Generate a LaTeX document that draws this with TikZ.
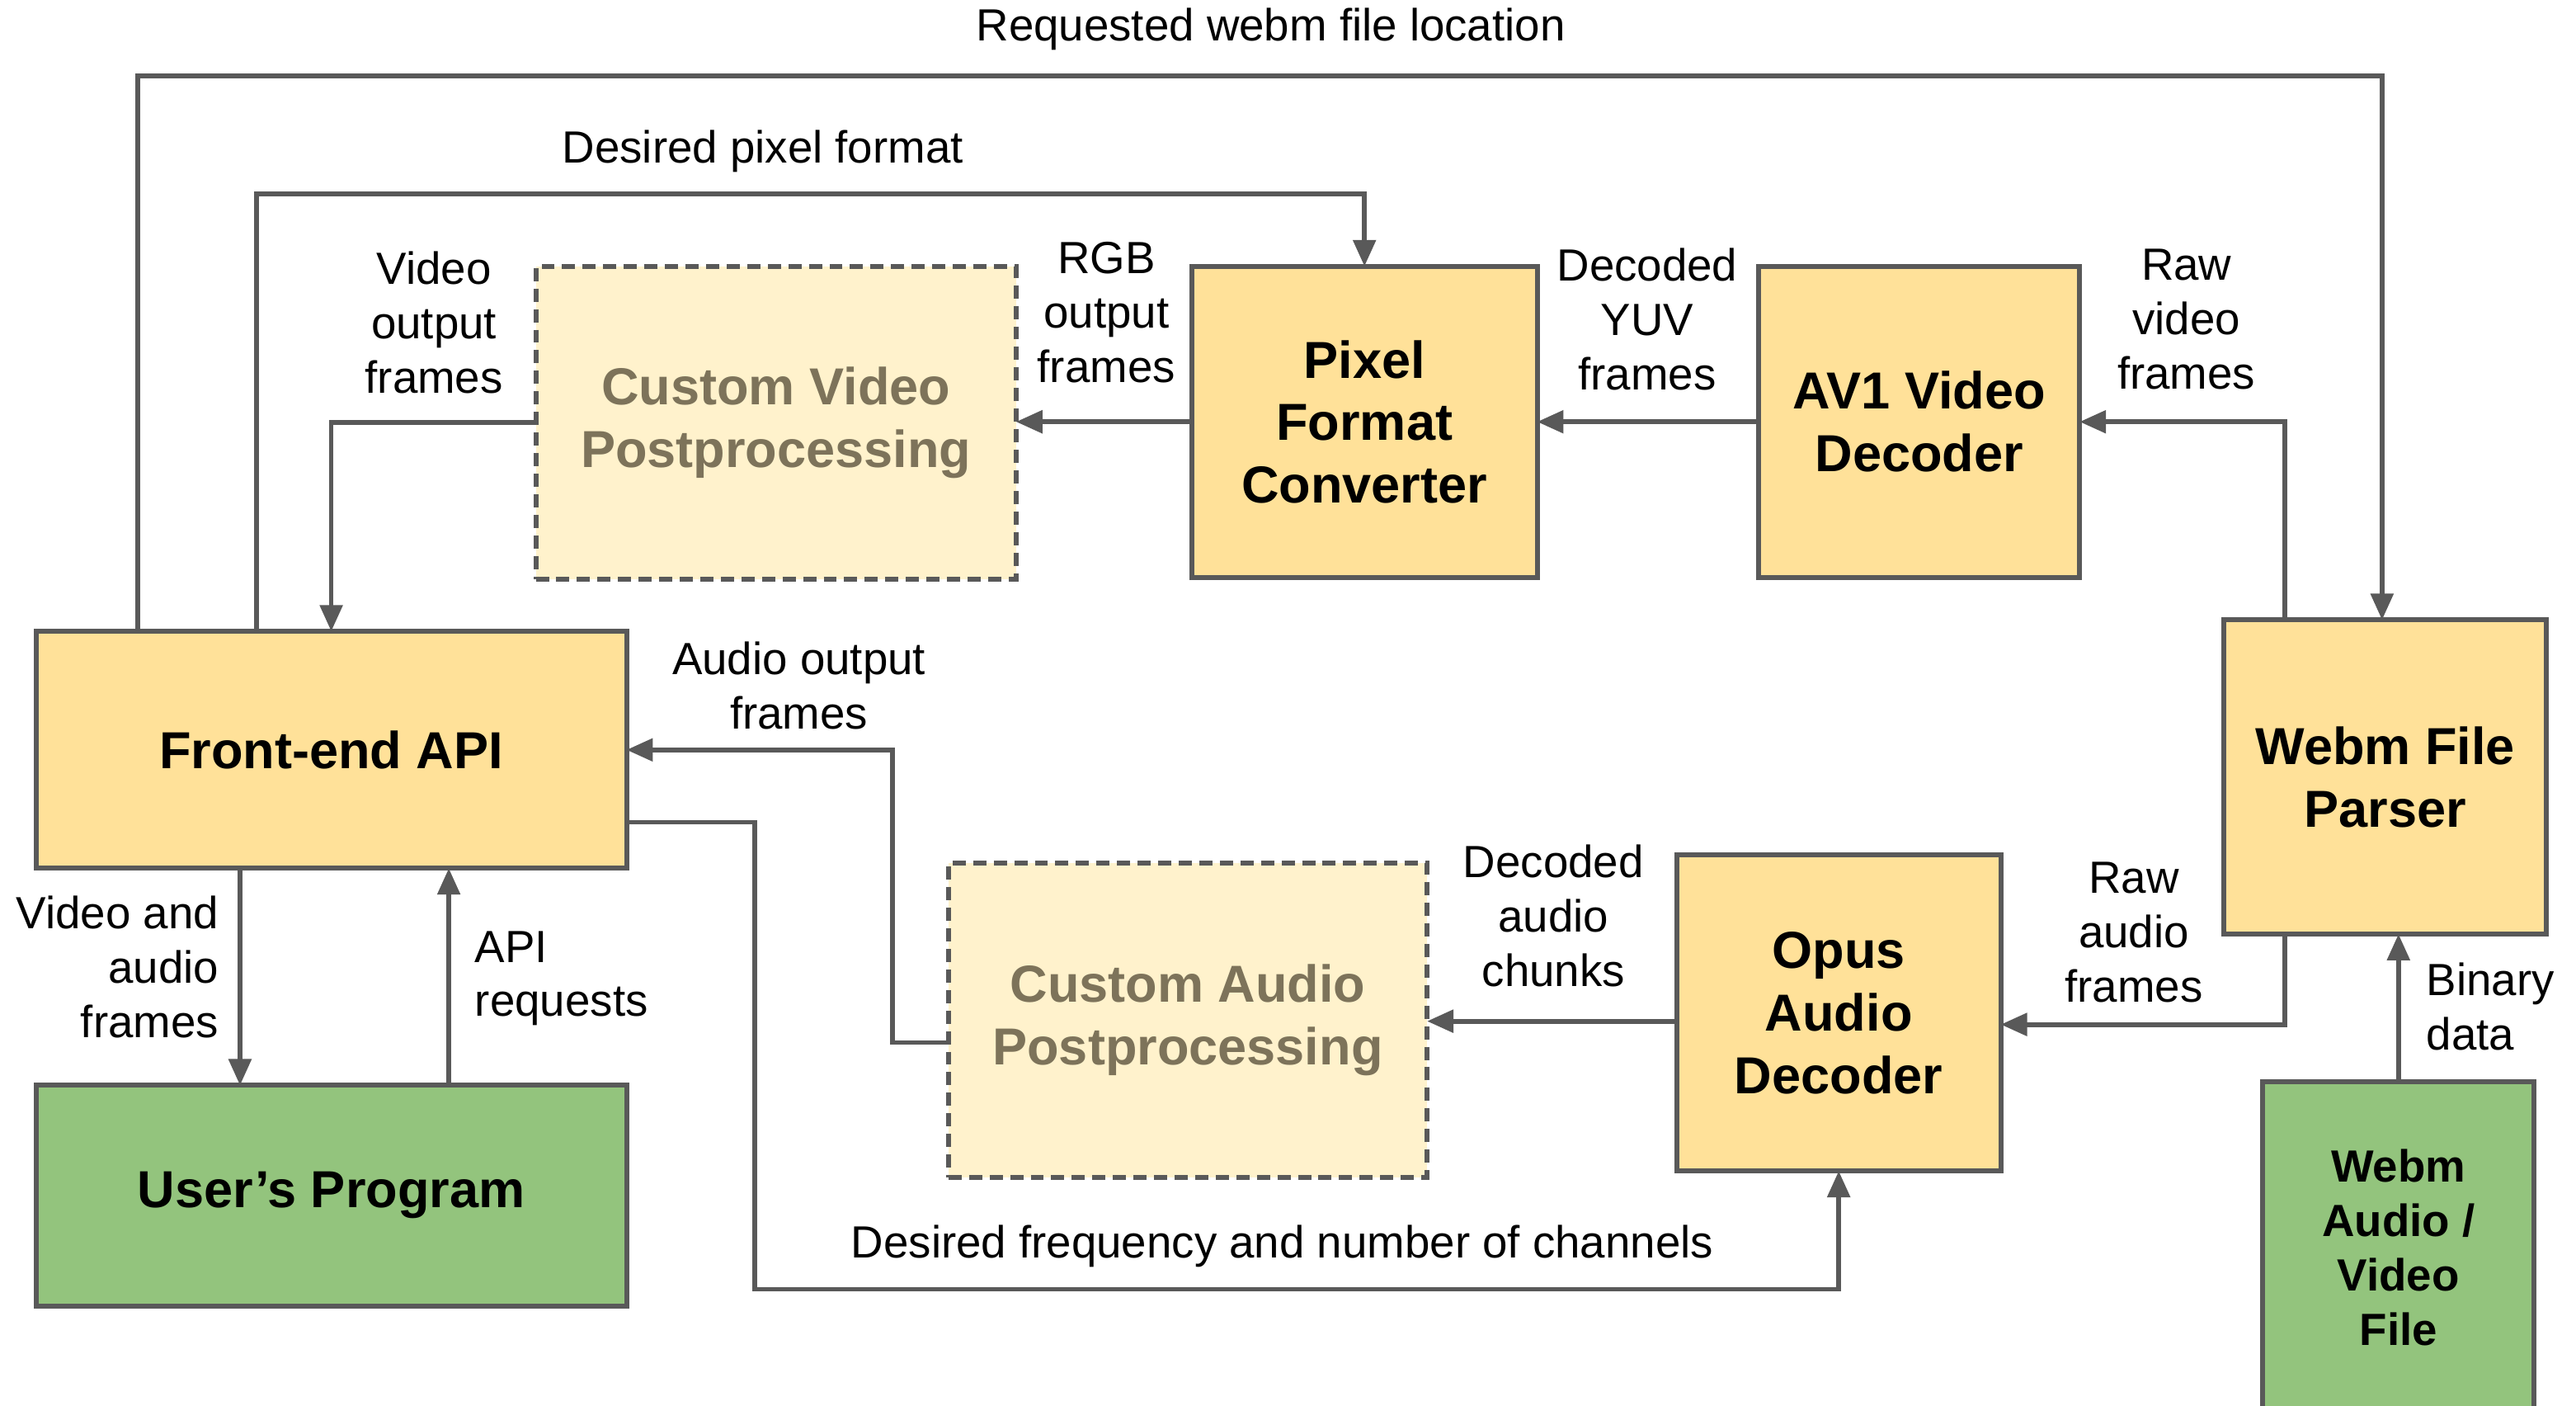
\documentclass[tikz,border=0pt]{standalone}
\usepackage{fontspec}
\setmainfont{Liberation Sans}
\usetikzlibrary{arrows.meta}
\definecolor{boxyellow}{HTML}{FFE199}
\definecolor{boxgreen}{HTML}{93C47D}
\definecolor{lightyellow}{HTML}{FFF2CC}
\definecolor{linegray}{HTML}{595959}
\definecolor{fadedtext}{HTML}{7D735A}
\begin{document}
\begin{tikzpicture}[x=0.01cm,y=-0.01cm,
  every node/.style={inner sep=0pt,outer sep=0pt},
  boldtext/.style={font=\fontsize{18}{21.6}\selectfont\bfseries,align=center},
  yellowbox/.style={boldtext,draw=linegray,line width=0.06cm,fill=boxyellow},
  greenbox/.style={boldtext,draw=linegray,line width=0.06cm,fill=boxgreen},
  optbox/.style={boldtext,draw=linegray,line width=0.06cm,dash pattern=on 0.16cm off 0.09cm,fill=lightyellow,text=fadedtext},
  lbl/.style={font=\fontsize{15.6}{18.8}\selectfont,align=center},
  conn/.style={draw=linegray,line width=0.058cm,line join=miter,-{Triangle[length=0.32cm,width=0.27cm]}}]
\clip (0,0) rectangle (3134,1710);
\fill[white] (0,0) rectangle (3134,1710);

% boxes
\node[optbox,minimum width=5.84cm,minimum height=3.80cm] (cv) at (944,514) {Custom Video\\Postprocessing};
\node[yellowbox,minimum width=4.20cm,minimum height=3.78cm] (pfc) at (1660,513) {Pixel\\Format\\Converter};
\node[yellowbox,minimum width=3.90cm,minimum height=3.78cm] (av1) at (2335,513) {AV1 Video\\Decoder};
\node[yellowbox,minimum width=3.92cm,minimum height=3.82cm] (parser) at (2902,945) {Webm File\\Parser};
\node[yellowbox,minimum width=7.18cm,minimum height=2.88cm] (fe) at (403,912) {Front-end API};
\node[greenbox,minimum width=7.18cm,minimum height=2.68cm] (up) at (403,1454) {User’s Program};
\node[optbox,minimum width=5.82cm,minimum height=3.82cm] (ca) at (1445,1241) {Custom Audio\\Postprocessing};
\node[yellowbox,minimum width=3.94cm,minimum height=3.84cm] (opus) at (2237,1232) {Opus\\Audio\\Decoder};
\node[greenbox,minimum width=3.30cm,minimum height=4.40cm,anchor=north] (file) at (2918,1316) {};
\node[boldtext,font=\fontsize{15.6}{18.8}\selectfont\bfseries] (filetext) at (2918,1517) {Webm\\Audio /\\Video\\File};

% connectors
\draw[conn] ([xshift=-2.35cm]fe.north) |- (2898,92) -- (2898,754);
\draw[conn] ([xshift=-0.91cm]fe.north) |- (1660,236) -- (pfc.north);
\draw[conn] (cv.west) -| (fe.north);
\draw[conn] (av1.west) -- (pfc.west -| pfc.east);
\draw[conn] (pfc.west) -- (pfc.west -| cv.east);
\draw[conn] (2780,754) |- (av1.east);
\draw[conn] (2780,1136) |- (opus.east |- 0,1246);
\draw[conn] (opus.west |- 0,1242) -- (ca.east |- 0,1242);
\draw[conn] (ca.west |- 0,1268) -| (1086,912) -- (fe.east);
\draw[conn] (fe.east |- 0,1000) -| (918,1568) -| (opus.south);
\draw[conn] (292,1056) -- (292,1320);
\draw[conn] (546,1320) -- (546,1056);
\draw[conn] (file.north) -- (2918,1136);

% labels
\node[lbl] (l1) at (1546,36) {Requested webm file location};
\node[lbl] (l2) at (928,184) {Desired pixel format};
\node[lbl] (l3) at (528,392) {Video\\output\\frames};
\node[lbl] (l4) at (1346,380) {RGB\\output\\frames};
\node[lbl] (l5) at (2004,388) {Decoded\\YUV\\frames};
\node[lbl] (l6) at (2660,388) {Raw\\video\\frames};
\node[lbl] (l7) at (972,834) {Audio output\\frames};
\node[lbl,align=right,anchor=east] (l8) at (266,1176) {Video and\\audio\\frames};
\node[lbl,align=left,anchor=west] (l9) at (578,1190) {API\\requests};
\node[lbl] (l10) at (1890,1114) {Decoded\\audio\\chunks};
\node[lbl] (l11) at (2596,1134) {Raw\\audio\\frames};
\node[lbl,align=left,anchor=west] (l12) at (2952,1224) {Binary\\data};
\node[lbl] (l13) at (1560,1516) {Desired frequency and number of channels};
\end{tikzpicture}
\end{document}
